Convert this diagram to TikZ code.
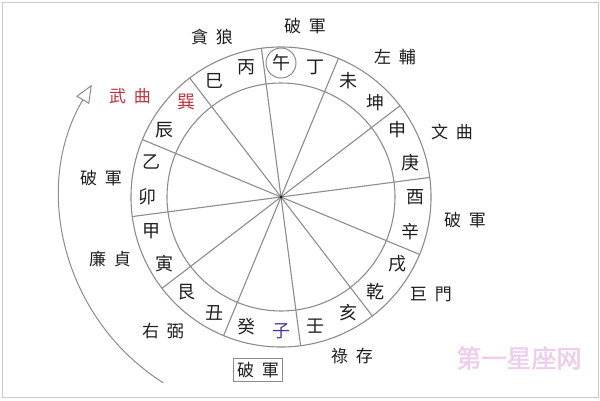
\documentclass[tikz,border=0pt]{standalone}
\usepackage{fontspec}
\setmainfont{Noto Sans CJK TC}
\newfontfamily\filigrane[FakeBold=2]{Noto Sans CJK SC}
\usetikzlibrary{arrows.meta}
\definecolor{gris}{RGB}{140,140,140}
\definecolor{encre}{RGB}{30,30,30}
\definecolor{rouge}{RGB}{192,52,62}
\definecolor{violet}{RGB}{70,60,160}
\definecolor{rose}{RGB}{236,206,236}
\begin{document}
\begin{tikzpicture}[x=1pt,y=1pt]
	\tikzstyle{trait}=[draw=gris,line width=1.1pt]
	\tikzstyle{montagne}=[text=encre,font=\fontsize{18}{18}\selectfont,inner sep=0pt]
	\tikzstyle{etoile}=[text=encre,font=\fontsize{17}{17}\selectfont,inner sep=1pt]
	\tikzstyle{fleche}=[-{Triangle[open,length=18pt,width=15pt]},draw=gris,line width=1pt]
	\def\RayonInterieur{114}
	\def\RayonExterieur{150}
	\def\RayonTexte{134}
	\def\RayonFleche{220}
	\def\Ecart{\hspace{0.45em}}
	\useasboundingbox (0,0) rectangle (600,400);
	\draw[gris!45,line width=0.8pt] (2,3) rectangle (598,398);
	\begin{scope}[shift={(281,203)}]
		\coordinate (O) at (0,0);
		\draw[trait] (O) circle (\RayonExterieur);
		\draw[trait] (O) circle (\RayonInterieur);
		\draw[trait] (O) -- (97.5:\RayonExterieur);
		\draw[trait] (O) -- (67.5:\RayonExterieur);
		\draw[trait] (O) -- (37.5:\RayonExterieur);
		\draw[trait] (O) -- (7.5:\RayonExterieur);
		\draw[trait] (O) -- (-22.5:\RayonExterieur);
		\draw[trait] (O) -- (-52.5:\RayonExterieur);
		\draw[trait] (O) -- (-82.5:\RayonExterieur);
		\draw[trait] (O) -- (-112.5:\RayonExterieur);
		\draw[trait] (O) -- (-142.5:\RayonExterieur);
		\draw[trait] (O) -- (-172.5:\RayonExterieur);
		\draw[trait] (O) -- (157.5:\RayonExterieur);
		\draw[trait] (O) -- (127.5:\RayonExterieur);
		\fill[encre] (O) circle (1.6);
		% vingt-quatre montagnes
		\node[montagne,circle,draw=gris,line width=1pt,minimum size=30pt] (Wu) at (90:\RayonTexte) {午};
		\node[montagne] (Ding) at (75:\RayonTexte) {丁};
		\node[montagne] (Wei) at (60:\RayonTexte) {未};
		\node[montagne] (Kun) at (45:\RayonTexte) {坤};
		\node[montagne] (Shen) at (30:\RayonTexte) {申};
		\node[montagne] (Geng) at (15:\RayonTexte) {庚};
		\node[montagne] (You) at (0:\RayonTexte) {酉};
		\node[montagne] (Xin) at (-15:\RayonTexte) {辛};
		\node[montagne] (Xu) at (-30:\RayonTexte) {戌};
		\node[montagne] (Qian) at (-45:\RayonTexte) {乾};
		\node[montagne] (Hai) at (-60:\RayonTexte) {亥};
		\node[montagne] (Ren) at (-75:\RayonTexte) {壬};
		\node[montagne,text=violet] (Zi) at (-90:\RayonTexte) {子};
		\node[montagne] (Gui) at (-105:\RayonTexte) {癸};
		\node[montagne] (Chou) at (-120:\RayonTexte) {丑};
		\node[montagne] (Gen) at (-135:\RayonTexte) {艮};
		\node[montagne] (Yin) at (-150:\RayonTexte) {寅};
		\node[montagne] (Jia) at (-165:\RayonTexte) {甲};
		\node[montagne] (Mao) at (180:\RayonTexte) {卯};
		\node[montagne] (Yi) at (165:\RayonTexte) {乙};
		\node[montagne] (Chen) at (150:\RayonTexte) {辰};
		\node[montagne,text=rouge] (Xun) at (135:\RayonTexte) {巽};
		\node[montagne] (Si) at (120:\RayonTexte) {巳};
		\node[montagne] (Bing) at (105:\RayonTexte) {丙};
		\coordinate (Depart) at (237.6:\RayonFleche);
		\draw[fleche] (Depart) arc[start angle=237.6,end angle=149.3,radius=\RayonFleche];
	\end{scope}
	% etoiles
	\node[etoile] (PoHaut) at (305,374) {破\Ecart 軍};
	\node[etoile] (TanLang) at (212,363) {貪\Ecart 狼};
	\node[etoile] (ZuoFu) at (395,343) {左\Ecart 輔};
	\node[etoile] (WenQu) at (452,268) {文\Ecart 曲};
	\node[etoile] (PoDroite) at (465,180) {破\Ecart 軍};
	\node[etoile] (JuMen) at (431,106) {巨\Ecart 門};
	\node[etoile] (LuCun) at (352,44) {祿\Ecart 存};
	\node[etoile,draw=gris,line width=1pt,inner sep=4pt] (PoBas) at (258,30) {破\Ecart 軍};
	\node[etoile] (YouBi) at (163,69) {右\Ecart 弼};
	\node[etoile] (LianZhen) at (110,141) {廉\Ecart 貞};
	\node[etoile] (PoGauche) at (101,222) {破\Ecart 軍};
	\node[etoile,text=rouge] (WuQu) at (130,304) {武\Ecart 曲};
	\node[text=rose,font=\filigrane\fontsize{25}{25}\selectfont] (Marque) at (519,42) {第一星座网};
\end{tikzpicture}
\end{document}
